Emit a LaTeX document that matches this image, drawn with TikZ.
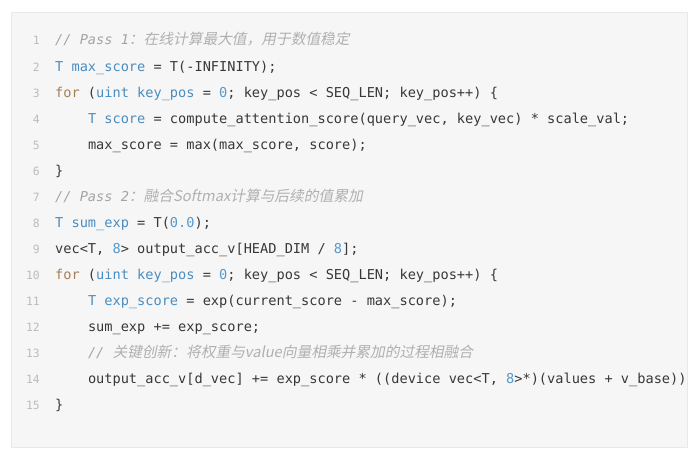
\documentclass[tikz,border=0pt]{standalone}
\usepackage{fontspec}
\newfontfamily\code{DejaVu Sans Mono}
\newfontfamily\cjk[FakeSlant=0.2,Scale=1.08]{Noto Sans CJK SC}
\definecolor{boxfill}{HTML}{F6F6F6}
\definecolor{boxline}{HTML}{E9E9E9}
\definecolor{txt}{HTML}{383838}
\definecolor{kw}{HTML}{4A8DC0}
\definecolor{kwfor}{HTML}{A67F59}
\definecolor{num}{HTML}{5599CC}
\definecolor{cmt}{HTML}{A4A4A4}
\definecolor{cmtcjk}{HTML}{B0B0B0}
\definecolor{lnum}{HTML}{BCBCBC}
\tikzset{
  codeline/.style={anchor=base west, inner sep=0pt, text=txt,
    font=\code\fontsize{13.62}{16}\selectfont\frenchspacing},
  lineno/.style={anchor=base east, inner sep=0pt, text=lnum,
    font=\code\fontsize{11.4}{14}\selectfont},
  codebox/.style={fill=boxfill, draw=boxline, line width=0.8pt}
}
\newcommand{\cm}[1]{{\itshape\color{cmt}#1}}
\newcommand{\cc}[1]{{\cjk\color{cmtcjk}#1}}
\begin{document}
\begin{tikzpicture}[x=1pt,y=-1pt]
\useasboundingbox (0,0) rectangle (699,460);
\node[codebox, minimum width=676pt, minimum height=435pt, anchor=north west, inner sep=0pt] (box) at (11,12) {};
\foreach \n in {1,...,15}{
  \node[lineno] (n\n) at (40,{45+26*(\n-1)}) {\n};
}
\def\xa{55}
\def\xb{87.8}
\node[codeline] (l1) at (\xa,45) {\cm{// Pass 1}\cc{：在线计算最大值，用于数值稳定}};
\node[codeline] (l2) at (\xa,71) {\textcolor{kw}{T max\_score} = T(-INFINITY);};
\node[codeline] (l3) at (\xa,97) {\textcolor{kwfor}{for} (\textcolor{kw}{uint key\_pos} = \textcolor{num}{0}; key\_pos < SEQ\_LEN; key\_pos++) \{};
\node[codeline] (l4) at (\xb,123) {\textcolor{kw}{T score} = compute\_attention\_score(query\_vec, key\_vec) * scale\_val;};
\node[codeline] (l5) at (\xb,149) {max\_score = max(max\_score, score);};
\node[codeline] (l6) at (\xa,175) {\}};
\node[codeline] (l7) at (\xa,201) {\cm{// Pass 2}\cc{：融合Softmax计算与后续的值累加}};
\node[codeline] (l8) at (\xa,227) {\textcolor{kw}{T sum\_exp} = T(\textcolor{num}{0.0});};
\node[codeline] (l9) at (\xa,253) {vec<T, \textcolor{num}{8}> output\_acc\_v[HEAD\_DIM / \textcolor{num}{8}];};
\node[codeline] (l10) at (\xa,279) {\textcolor{kwfor}{for} (\textcolor{kw}{uint key\_pos} = \textcolor{num}{0}; key\_pos < SEQ\_LEN; key\_pos++) \{};
\node[codeline] (l11) at (\xb,305) {\textcolor{kw}{T exp\_score} = exp(current\_score - max\_score);};
\node[codeline] (l12) at (\xb,331) {sum\_exp += exp\_score;};
\node[codeline] (l13) at (\xb,357) {\cm{//\ }\cc{关键创新：将权重与value向量相乘并累加的过程相融合}};
\node[codeline] (l14) at (\xb,383) {output\_acc\_v[d\_vec] += exp\_score * ((device vec<T, \textcolor{num}{8}>*)(values + v\_base))};
\node[codeline] (l15) at (\xa,409) {\}};
\end{tikzpicture}
\end{document}
